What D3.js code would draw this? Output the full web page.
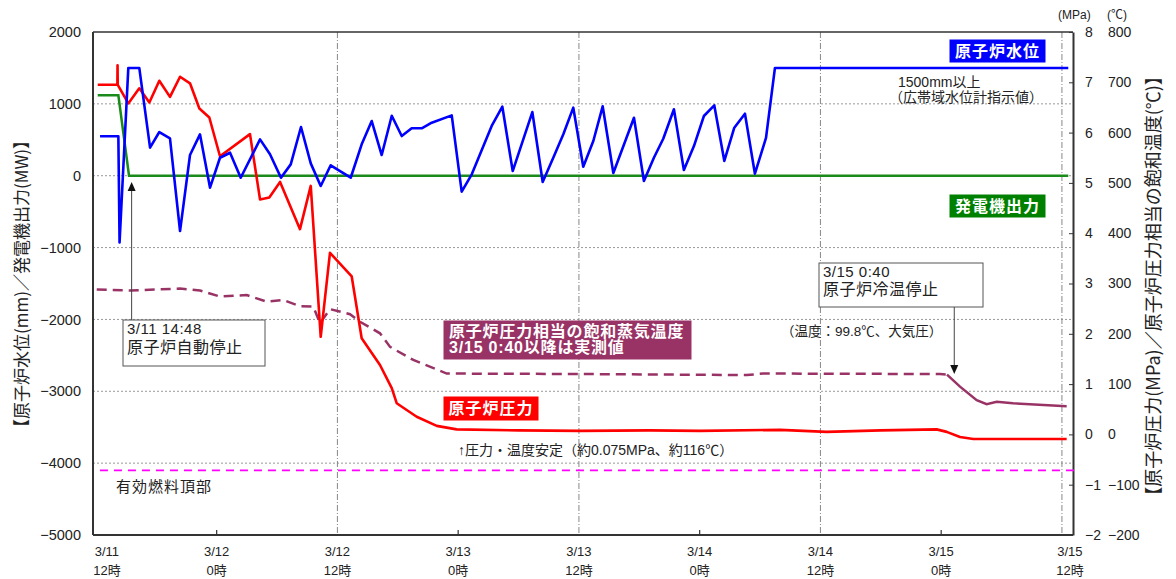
<!DOCTYPE html>
<html>
<head>
<meta charset="utf-8">
<script src="https://cdn.jsdelivr.net/npm/d3@7"></script>
<style>
  body { margin: 0; background: #fff; }
  svg text { font-family: "Liberation Sans", "Noto Sans CJK JP", sans-serif; fill: #222; }
  .jp { font-family: "Noto Sans CJK JP", sans-serif; }
</style>
</head>
<body>
<div id="chart"></div>
<script>
// chart size and plot margins
const width = 1176;
const height = 579;
const margin = {left: 93, right: 103, top: 32, bottom: 44};

// all times are hours after 3/11 12:00
// reactor water level (mm)
const levelHours = [0.41, 2.23, 2.35, 3.22, 4.31, 5.38, 6.30, 7.36, 8.36, 9.35, 10.34, 11.34, 12.33, 13.33, 14.39,
  16.31, 17.30, 18.39, 19.36, 20.38, 21.35, 22.34, 23.33, 25.32, 26.41, 27.41, 28.40, 29.40, 30.39, 31.38, 32.38,
  33.37, 35.36, 36.35, 37.35, 39.33, 40.39, 41.42, 43.37, 44.40, 45.45, 46.45, 47.44, 48.43, 49.43, 50.36, 51.42,
  53.47, 54.46, 55.45, 56.38, 57.44, 58.43, 59.43, 60.42, 61.45, 62.45, 63.44, 64.50, 65.49, 66.59, 67.48, 96.63];
const levelMm = [550, 550, -930, 1500, 1500, 390, 608, 520, -770, 288, 576, -167, 250, 320, -28,
  506, 298, -28, 158, 678, 172, -143, 145, -28, 437, 761, 288, 835, 552, 660, 660,
  738, 840, -222, 19, 692, 960, 65, 886, -88, 250, 576, 947, 125, 483, 966, 38,
  807, -74, 250, 515, 924, 79, 413, 831, 980, 205, 668, 863, 28, 525, 1500, 1500];

// reactor pressure (MPa)
const pressHours = [0.18, 2.13, 2.15, 2.17, 3.22, 4.31, 5.31, 6.30, 7.36, 8.36, 9.35, 10.28, 11.27, 12.33, 15.31,
  16.31, 17.23, 18.30, 20.28, 21.35, 22.34, 23.26, 25.42, 26.41, 28.23, 29.40, 29.89, 31.88, 33.87, 35.85,
  42, 48.11, 55, 60.04, 67.98, 72.62, 78, 83.55, 84.55, 85.87, 87.19, 96.47];
const pressMpa = [6.95, 6.95, 7.34, 6.95, 6.58, 6.88, 6.60, 7.03, 6.71, 7.11, 6.98, 6.48, 6.30, 5.53, 5.97,
  4.67, 4.71, 5.02, 4.08, 4.94, 1.94, 3.61, 3.14, 1.91, 1.38, 0.92, 0.62, 0.35, 0.17, 0.10,
  0.08, 0.07, 0.08, 0.07, 0.09, 0.05, 0.08, 0.10, 0.05, -0.05, -0.09, -0.09];

// saturation temperature from pressure (deg C), then measured after 3/15 0:40
const satHours = [0.08, 3.39, 8.36, 10.34, 12.33, 14.99, 16.97, 18.62, 20.28, 21.60, 22.27, 23.26,
  25.25, 26.24, 28.23, 29.23, 31.54, 34.86, 48.11, 64.67, 66.32, 83.88, 84.58];
const satTemp = [288, 286, 290, 286, 274, 277, 264, 267, 255, 254, 221, 249,
  239, 224, 201, 174, 148, 121, 120, 118, 121, 120, 119];
const measHours = [84.58, 85.87, 87.53, 88.52, 89.52, 91.13, 96.47];
const measTemp = [119, 95, 68, 60, 65, 62, 56];

// generator output (MW)
const genHours = [0.18, 2.23, 3.29, 96.63];
const genMw = [1120, 1120, 0, 0];

// top of active fuel (mm)
const fuelTopMm = -4100;
const fuelHours = [0.4, 97.25];

// x axis ticks
const tickHours = [0, 12, 24, 36, 48, 60, 72, 84, 96];
const tickDays = ["3/11", "3/12", "3/12", "3/13", "3/13", "3/14", "3/14", "3/15", "3/15"];
const tickClock = ["12時", "0時", "12時", "0時", "12時", "0時", "12時", "0時", "12時"];
const leftTicks = [-5000, -4000, -3000, -2000, -1000, 0, 1000, 2000];

// event times for arrows (hours)
const scramHours = 3.55;
const coldHours = 85.3;

const svg = d3.select("#chart")
  .append("svg")
  .attr("width", width)
  .attr("height", height);

/* scales */
const x = d3.scaleLinear()
  .domain([-0.29, 97.1])
  .range([margin.left, width - margin.right]);

const yL = d3.scaleLinear()
  .domain([-5000, 2000])
  .range([height - margin.bottom, margin.top]);

const yP = d3.scaleLinear()
  .domain([-2, 8])
  .range([height - margin.bottom, margin.top]);

const yT = d3.scaleLinear()
  .domain([-200, 800])
  .range([height - margin.bottom, margin.top]);

/* grid */
svg.append("g")
  .selectAll("line")
  .data(leftTicks.filter(d => d > -5000 && d < 2000))
  .join("line")
    .attr("x1", margin.left)
    .attr("x2", width - margin.right)
    .attr("y1", d => yL(d))
    .attr("y2", d => yL(d))
    .attr("stroke", "#999")
    .attr("stroke-width", 1)
    .attr("stroke-dasharray", "2,2");

// 12時 lines are dash-dot
svg.append("g")
  .selectAll("line")
  .data(tickHours.filter((d, i) => i > 0 && d % 24 === 0))
  .join("line")
    .attr("x1", d => x(d))
    .attr("x2", d => x(d))
    .attr("y1", margin.top)
    .attr("y2", height - margin.bottom)
    .attr("stroke", "#888")
    .attr("stroke-width", 1)
    .attr("stroke-dasharray", "6,2,1,2");

// 0時 small ticks
svg.append("g")
  .selectAll("line")
  .data(tickHours.filter(d => d % 24 === 12))
  .join("line")
    .attr("x1", d => x(d))
    .attr("x2", d => x(d))
    .attr("y1", height - margin.bottom)
    .attr("y2", height - margin.bottom - 5)
    .attr("stroke", "#333")
    .attr("stroke-width", 1.2);

/* axes */
const leftAxis = svg.append("g")
  .attr("transform", `translate(${margin.left},0)`)
  .call(d3.axisLeft(yL).tickValues(leftTicks).tickFormat(d3.format("d")).tickSize(0).tickPadding(12));
leftAxis.select(".domain").remove();
leftAxis.selectAll("text").attr("font-size", "14.5px").attr("fill", "#222");

const pAxis = svg.append("g")
  .attr("transform", `translate(${width - margin.right},0)`)
  .call(d3.axisRight(yP).ticks(10).tickSizeInner(-4).tickSizeOuter(0).tickPadding(12));
pAxis.select(".domain").attr("stroke", "#333").attr("stroke-width", 2);
pAxis.selectAll("line").attr("stroke", "#333");
pAxis.selectAll("text").attr("font-size", "14px").attr("fill", "#222");

const tAxis = svg.append("g")
  .attr("transform", `translate(${width - margin.right},0)`)
  .call(d3.axisRight(yT).ticks(10).tickSize(0).tickPadding(35));
tAxis.select(".domain").remove();
tAxis.selectAll("text").attr("font-size", "14px").attr("fill", "#222");

// frame
svg.append("line")
  .attr("x1", margin.left).attr("x2", width - margin.right)
  .attr("y1", margin.top).attr("y2", margin.top)
  .attr("stroke", "#333").attr("stroke-width", 1.5);
svg.append("line")
  .attr("x1", margin.left).attr("x2", margin.left)
  .attr("y1", margin.top).attr("y2", height - margin.bottom)
  .attr("stroke", "#333").attr("stroke-width", 2);
svg.append("line")
  .attr("x1", margin.left).attr("x2", width - margin.right)
  .attr("y1", height - margin.bottom).attr("y2", height - margin.bottom)
  .attr("stroke", "#333").attr("stroke-width", 2);

// x labels, two lines each (one text with tspans)
const xLab = svg.append("g")
  .selectAll("text")
  .data(tickHours)
  .join("text")
    .attr("text-anchor", "middle")
    .attr("font-size", "13px")
    .attr("transform", (d, i) => {
      let shift = 0;
      if (i === 0) shift = 11;
      if (i === tickHours.length - 1) shift = 8;
      return `translate(${x(d) + shift},0)`;
    });
xLab.append("tspan")
  .attr("x", 0)
  .attr("y", 556)
  .text((d, i) => tickDays[i]);
xLab.append("tspan")
  .attr("x", 0)
  .attr("y", 575)
  .text((d, i) => tickClock[i]);

// axis titles
svg.append("text")
  .attr("class", "jp")
  .attr("transform", "translate(28,284) rotate(-90)")
  .attr("text-anchor", "middle")
  .attr("font-size", "17px")
  .text("【原子炉水位(mm)／発電機出力(MW)】");

svg.append("text")
  .attr("class", "jp")
  .attr("transform", "translate(1160,286) rotate(-90)")
  .attr("text-anchor", "middle")
  .attr("font-size", "18px")
  .text("【原子炉圧力(MPa)／原子炉圧力相当の飽和温度(℃)】");

svg.append("text").attr("x", 1058).attr("y", 19).attr("font-size", "12px").text("(MPa)");
svg.append("text").attr("x", 1107).attr("y", 19).attr("font-size", "12px").text("(℃)");

/* lines */
const zip = (hs, vs) => hs.map((h, i) => [h, vs[i]]);

const lineL = d3.line().x(d => x(d[0])).y(d => yL(d[1]));
const lineP = d3.line().x(d => x(d[0])).y(d => yP(d[1]));
const lineT = d3.line().x(d => x(d[0])).y(d => yT(d[1]));

// top of fuel
svg.append("path")
  .datum(zip(fuelHours, [fuelTopMm, fuelTopMm]))
  .attr("d", lineL)
  .attr("fill", "none")
  .attr("stroke", "#ff00ff")
  .attr("stroke-width", 1.6)
  .attr("stroke-dasharray", "8,6");

// saturation temp (dashed), measured (solid)
svg.append("path")
  .datum(zip(satHours, satTemp))
  .attr("d", lineT)
  .attr("fill", "none")
  .attr("stroke", "#993366")
  .attr("stroke-width", 2.5)
  .attr("stroke-dasharray", "10,6");
svg.append("path")
  .datum(zip(measHours, measTemp))
  .attr("d", lineT)
  .attr("fill", "none")
  .attr("stroke", "#993366")
  .attr("stroke-width", 2.5);

// generator output
svg.append("path")
  .datum(zip(genHours, genMw))
  .attr("d", lineL)
  .attr("fill", "none")
  .attr("stroke", "#1a8a1a")
  .attr("stroke-width", 2.5);

// reactor pressure
svg.append("path")
  .datum(zip(pressHours, pressMpa))
  .attr("d", lineP)
  .attr("fill", "none")
  .attr("stroke", "#ff0000")
  .attr("stroke-width", 2.6)
  .attr("stroke-linejoin", "round");

// reactor water level
svg.append("path")
  .datum(zip(levelHours, levelMm))
  .attr("d", lineL)
  .attr("fill", "none")
  .attr("stroke", "#0000ff")
  .attr("stroke-width", 2.6)
  .attr("stroke-linejoin", "round");

/* annotations */
function box(x0, y0, w, h, fill, stroke) {
  svg.append("rect")
    .attr("x", x0).attr("y", y0)
    .attr("width", w).attr("height", h)
    .attr("fill", fill)
    .attr("stroke", stroke)
    .attr("stroke-width", 1);
}

// one text element, each line as a tspan
function note(x0, y0, lines, size, opts) {
  opts = opts || {};
  const t = svg.append("text")
    .attr("class", opts.cls || null)
    .attr("font-size", size)
    .attr("font-weight", opts.bold ? "bold" : null)
    .attr("letter-spacing", opts.ls || null)
    .attr("text-anchor", opts.anchor || "start")
    .style("fill", opts.color || "#222");
  [].concat(lines).forEach((str, i) => {
    t.append("tspan")
      .attr("x", x0 + (opts.dx ? opts.dx[i] : 0))
      .attr("y", y0 + i * (opts.lh || 0))
      .attr("font-size", opts.sizes ? opts.sizes[i] : null)
      .text(str);
  });
  return t;
}

// legend-like boxes
box(950, 40, 95, 22, "#0000ff", "#0000ff");
note(997.5, 57, "原子炉水位", "16px", {cls: "jp", bold: true, color: "#fff", anchor: "middle", ls: "1px"});
box(950, 195, 95, 22, "#008000", "#008000");
note(997.5, 212, "発電機出力", "16px", {cls: "jp", bold: true, color: "#fff", anchor: "middle", ls: "1px"});
box(444, 397, 94, 23, "#ff0000", "#ff0000");
note(491, 414, "原子炉圧力", "16px", {cls: "jp", bold: true, color: "#fff", anchor: "middle", ls: "1px"});
box(444, 321, 247, 38, "#993366", "#993366");
note(449, 337, ["原子炉圧力相当の飽和蒸気温度", "3/15 0:40以降は実測値"], "16px",
  {bold: true, color: "#fff", ls: "0.8px", lh: 16});

// scram note and arrow
box(123, 320, 142, 46, "#fff", "#555");
note(127, 334, ["3/11 14:48", "原子炉自動停止"], "16px", {lh: 19, ls: "0.5px", sizes: ["15px", "16px"]});
svg.append("line")
  .attr("x1", x(scramHours)).attr("x2", x(scramHours))
  .attr("y1", 320).attr("y2", 190)
  .attr("stroke", "#444").attr("stroke-width", 1);
svg.append("path")
  .attr("d", `M${x(scramHours)},182 l-4,9 l8,0 z`)
  .attr("fill", "#111");

// cold shutdown note and arrow
box(819, 263, 164, 44, "#fff", "#555");
note(823, 277, ["3/15 0:40", "原子炉冷温停止"], "16px", {lh: 18, ls: "0.5px", sizes: ["15px", "16px"]});
svg.append("line")
  .attr("x1", x(coldHours)).attr("x2", x(coldHours))
  .attr("y1", 307).attr("y2", 366)
  .attr("stroke", "#444").attr("stroke-width", 1);
svg.append("path")
  .attr("d", `M${x(coldHours)},374 l-4,-9 l8,0 z`)
  .attr("fill", "#111");

// other text notes
note(889, 87, ["1500mm以上", "（広帯域水位計指示値）"], "14px", {lh: 15, dx: [9, 0]});
note(458, 455, ["↑圧力・温度安定（約0.075MPa、約116℃）"], "14px");
note(116, 492, ["有効燃料頂部"], "15px", {cls: "jp", ls: "1px"});
note(781, 336, ["（温度：99.8℃、大気圧）"], "13.5px");
</script>
</body>
</html>
